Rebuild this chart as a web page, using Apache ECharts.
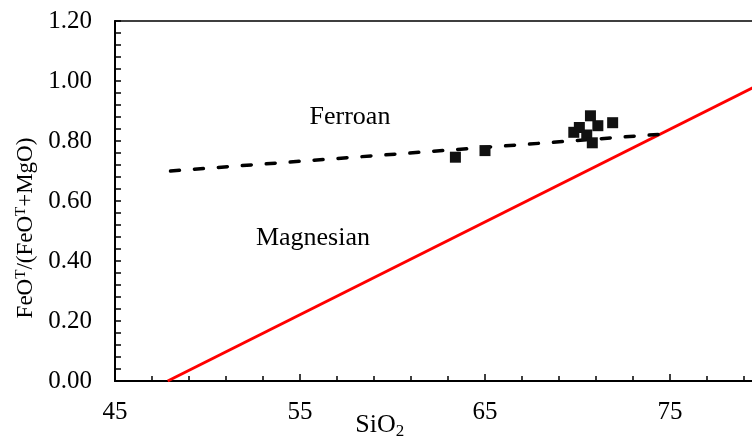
<!DOCTYPE html>
<html>
<head>
<meta charset="utf-8">
<script src="https://cdn.jsdelivr.net/npm/echarts@6/dist/echarts.min.js"></script>
<style>
  html, body { margin: 0; padding: 0; background: #fff; }
  #chart { width: 752px; height: 440px; }
</style>
</head>
<body>
<div id="chart"></div>
<script>
// --- Data ---
const samples = [
  [63.4, 0.746],
  [65.0, 0.768],
  [69.8, 0.829],
  [70.1, 0.845],
  [70.5, 0.820],
  [70.7, 0.884],
  [70.8, 0.794],
  [71.1, 0.851],
  [71.9, 0.861]
];
// Ferroan / magnesian boundary (dashed)
const ferroanLine = [[48, 0.70], [75, 0.825]];
// red reference line
const redLine = [[47.85, 0], [80, 0.994]];
// field labels, placed in data units
const fieldLabels = [
  { name: 'Ferroan', value: [57.7, 0.88] },
  { name: 'Magnesian', value: [55.7, 0.477] }
];

const serif = '"Liberation Serif", "Times New Roman", serif';

const chart = echarts.init(document.getElementById('chart'), null, { renderer: 'canvas' });

chart.setOption({
  animation: false,
  grid: {
    left: 115, right: -10.5, top: 21, bottom: 59,
    outerBoundsMode: 'none',
    containLabel: false,
    show: true, borderColor: '#000', borderWidth: 1.5
  },
  xAxis: {
    type: 'value',
    min: 45, max: 80, interval: 10,
    axisLine: { onZero: false, lineStyle: { color: '#000', width: 2 } },
    axisTick: { inside: true, length: 7, lineStyle: { color: '#000', width: 1.5 } },
    minorTick: { show: true, splitNumber: 5, length: 5, lineStyle: { color: '#000', width: 1.5 } },
    splitLine: { show: false },
    axisLabel: {
      margin: 19, color: '#000', fontFamily: serif, fontSize: 25,
      showMaxLabel: false
    },
    name: '{n|SiO}{s|2}',
    nameLocation: 'middle',
    nameGap: 30,
    nameMoveOverlap: false,
    nameTextStyle: {
      padding: [0, 118, 0, 0],
      rich: {
        n: { fontFamily: serif, fontSize: 26, color: '#000' },
        s: { fontFamily: serif, fontSize: 17, color: '#000', verticalAlign: 'bottom', padding: [12, 0, 0, 0] }
      }
    }
  },
  yAxis: {
    type: 'value',
    min: 0, max: 1.2, interval: 0.2,
    axisLine: { onZero: false, lineStyle: { color: '#000', width: 2 } },
    axisTick: { inside: true, length: 6, lineStyle: { color: '#000', width: 1.5 } },
    minorTick: { show: true, splitNumber: 5, length: 6, lineStyle: { color: '#000', width: 1.5 } },
    splitLine: { show: false },
    axisLabel: {
      margin: 23, color: '#000', fontFamily: serif, fontSize: 25,
      formatter: (v) => v.toFixed(2)
    },
    name: '{n|FeO}{s|T}{n|/(FeO}{s|T}{n|+MgO)}',
    nameLocation: 'middle',
    nameGap: 78,
    nameMoveOverlap: false,
    nameRotate: 90,
    nameTextStyle: {
      padding: [0, 54, 0, 0],
      rich: {
        n: { fontFamily: serif, fontSize: 23, color: '#000' },
        s: { fontFamily: serif, fontSize: 15, color: '#000', verticalAlign: 'top' }
      }
    }
  },
  series: [
    {
      type: 'line',
      data: redLine,
      showSymbol: false,
      lineStyle: { color: '#ff0000', width: 3 },
      z: 2
    },
    {
      type: 'line',
      data: ferroanLine,
      showSymbol: false,
      lineStyle: { color: '#000', width: 3.5, type: [9, 15], cap: 'round' },
      z: 3
    },
    {
      type: 'scatter',
      data: samples,
      symbol: 'rect',
      symbolSize: 11,
      itemStyle: { color: '#111', opacity: 1 },
      z: 4
    },
    {
      type: 'scatter',
      data: fieldLabels,
      symbolSize: 0,
      itemStyle: { opacity: 1 },
      label: {
        show: true, position: 'inside', formatter: '{b}',
        color: '#000', fontFamily: serif, fontSize: 26
      },
      silent: true
    }
  ]
});
</script>
</body>
</html>
